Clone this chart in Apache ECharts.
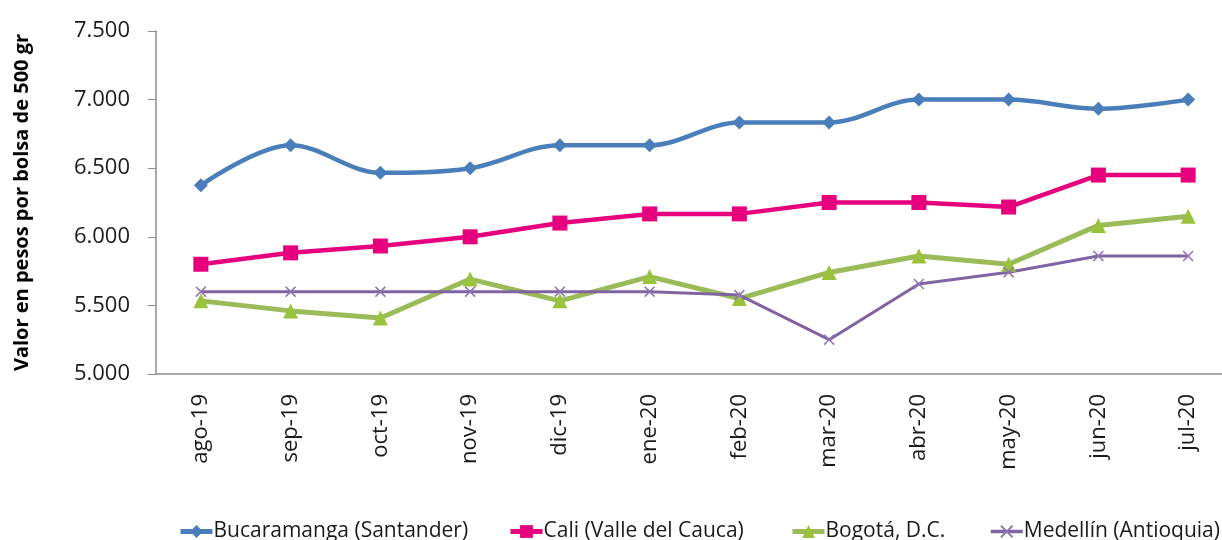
<!DOCTYPE html>
<html>
<head>
<meta charset="utf-8">
<script src="https://cdn.jsdelivr.net/npm/echarts@6/dist/echarts.min.js"></script>
<style>
	html,body{margin:0;padding:0;background:#fff;}
	#chart{width:1222px;height:540px;}
</style>
</head>
<body>
<div id="chart"></div>
<script>
var months = ["ago-19","sep-19","oct-19","nov-19","dic-19","ene-20","feb-20","mar-20","abr-20","may-20","jun-20","jul-20"];
var bucaramanga = [6375,6667,6467,6500,6667,6667,6833,6833,7000,7000,6933,7000];
var cali = [5800,5883,5933,6000,6100,6167,6167,6250,6250,6217,6450,6450];
var bogota = [5533,5460,5408,5692,5533,5710,5550,5740,5860,5800,6083,6150];
var medellin = [5600,5600,5600,5600,5600,5600,5575,5250,5656,5742,5860,5860];
var yTicks = [5000,5500,6000,6500,7000,7500];
var seriesNames = ["Bucaramanga (Santander)","Cali (Valle del Cauca)","Bogotá, D.C.","Medellín (Antioquia)"];

var font = "'Open Sans', 'Noto Sans', sans-serif";
var crossPath = "path://M0,1L1,0L5,4L9,0L10,1L6,5L10,9L9,10L5,6L1,10L0,9L4,5Z";

// one legend per entry, the original spaces them unevenly
var legendLeft = [173, 503, 785, 984];
var legendLineWidth = [5, 5, 5, 3.5];
var legends = [];
for (var i = 0; i < seriesNames.length; i++) {
	legends.push({
		top: 516,
		left: legendLeft[i],
		itemWidth: 32,
		itemHeight: 16,
		lineStyle: {width: legendLineWidth[i]},
		textStyle: {fontFamily: font, fontSize: 21, color: "#1a1a1a", padding: [0,0,0,-4]},
		data: [seriesNames[i]]
	});
}

var myChart = echarts.init(document.getElementById("chart"));
var option = {
	animation: false,
	textStyle: {fontFamily: font},
	grid: {left: 156, top: 31, right: -11, bottom: 166, containLabel: false, outerBoundsMode: "none"},
	legend: legends,
	xAxis: {
		type: "category",
		data: months,
		boundaryGap: true,
		axisLine: {lineStyle: {color: "#8c8c8c", width: 1.5}},
		axisTick: {show: false},
		axisLabel: {rotate: 90, margin: 20, fontSize: 22, color: "#1a1a1a", fontFamily: font}
	},
	yAxis: {
		type: "value",
		min: yTicks[0],
		max: yTicks[yTicks.length-1],
		interval: 500,
		name: "Valor en pesos por bolsa de 500 gr",
		nameLocation: "middle",
		nameGap: 124,
		nameTextStyle: {fontSize: 20, fontWeight: "bold", color: "#000", fontFamily: font},
		splitLine: {show: false},
		axisLine: {show: true, lineStyle: {color: "#8c8c8c", width: 1.5}},
		axisTick: {show: true, length: 8, lineStyle: {color: "#8c8c8c"}},
		axisLabel: {
			margin: 26,
			fontSize: 22,
			color: "#1a1a1a",
			fontFamily: font,
			formatter: function(v){ return String(v).replace(/\B(?=(\d{3})+(?!\d))/g, "."); }
		}
	},
	series: [
		{
			name: seriesNames[0],
			type: "line",
			data: bucaramanga,
			smooth: 0.35,
			symbol: "diamond",
			symbolSize: 14,
			lineStyle: {color: "#4a7ebb", width: 4.5},
			itemStyle: {color: "#4a7ebb"}
		},
		{
			name: seriesNames[1],
			type: "line",
			data: cali,
			symbol: "rect",
			symbolSize: 15,
			lineStyle: {color: "#e6007e", width: 4.5},
			itemStyle: {color: "#e6007e"}
		},
		{
			name: seriesNames[2],
			type: "line",
			data: bogota,
			symbol: "triangle",
			symbolSize: 15,
			lineStyle: {color: "#9bbb59", width: 5},
			itemStyle: {color: "#9bc23c"}
		},
		{
			name: seriesNames[3],
			type: "line",
			data: medellin,
			symbol: crossPath,
			symbolSize: 11,
			lineStyle: {color: "#8064a2", width: 3},
			itemStyle: {color: "#8c74b4"}
		}
	]
};
myChart.setOption(option);
</script>
</body>
</html>
